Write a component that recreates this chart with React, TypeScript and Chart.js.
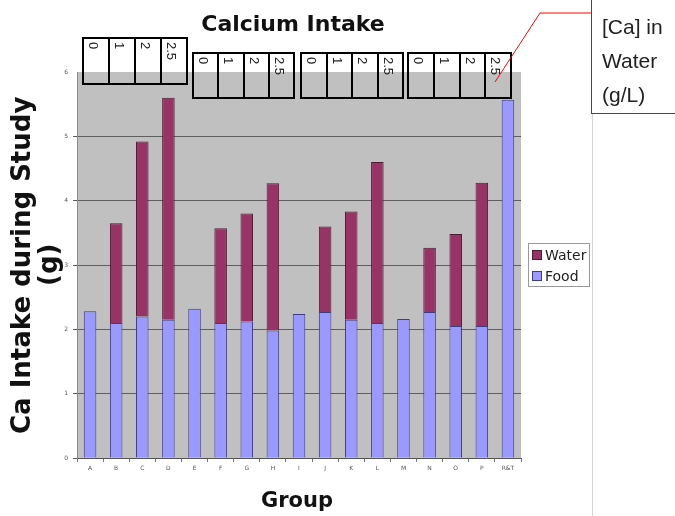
import React, { useEffect, useRef } from 'react';
import { Chart, registerables } from 'chart.js';

Chart.register(...registerables);

const categories = ['A', 'B', 'C', 'D', 'E', 'F', 'G', 'H', 'I', 'J', 'K', 'L', 'M', 'N', 'O', 'P', 'R&T'];
const foodValues = [2.28, 2.10, 2.20, 2.15, 2.32, 2.10, 2.12, 1.98, 2.24, 2.27, 2.15, 2.10, 2.16, 2.27, 2.05, 2.05, 5.57];
const waterValues = [null, 1.55, 2.72, 3.45, null, 1.47, 1.68, 2.29, null, 1.33, 1.68, 2.50, null, 1.00, 1.43, 2.23, null];
const yTicks = [0, 1, 2, 3, 4, 5, 6];
const concentrationLabels = ['0', '1', '2', '2.5'];
const annotationLines = ['[Ca] in', 'Water', '(g/L)'];
const chartTitle = 'Calcium Intake';
const yTitleLines = ['Ca Intake during Study', '(g)'];
const xTitle = 'Group';

const tableBoxes = [
  { left: 82, top: 37, width: 106, height: 48 },
  { left: 192, top: 52, width: 103, height: 47 },
  { left: 300, top: 52, width: 104, height: 47 },
  { left: 407, top: 52, width: 105, height: 47 },
];

const plotBg = {
  id: 'plotBg',
  beforeDraw(chart: any) {
    const { ctx, chartArea } = chart;
    if (!chartArea) return;
    ctx.save();
    ctx.fillStyle = '#c0c0c0';
    ctx.fillRect(chartArea.left, chartArea.top, chartArea.right - chartArea.left, chartArea.bottom - chartArea.top);
    ctx.restore();
  },
};

export default function App() {
  const canvasRef = useRef<HTMLCanvasElement | null>(null);

  useEffect(() => {
    if (!canvasRef.current) return;
    const chart = new Chart(canvasRef.current, {
      type: 'bar',
      data: {
        labels: categories,
        datasets: [
          {
            label: 'Food',
            data: foodValues,
            backgroundColor: '#9999ff',
            borderColor: '#3d3d85',
            borderWidth: 1,
            barPercentage: 0.48,
            categoryPercentage: 1,
          },
          {
            label: 'Water',
            data: waterValues as any,
            backgroundColor: '#993366',
            borderColor: '#4d1a33',
            borderWidth: 1,
            barPercentage: 0.48,
            categoryPercentage: 1,
          },
        ],
      },
      options: {
        responsive: false,
        animation: false,
        layout: { padding: { left: 0, top: 72, right: 154, bottom: 0 } },
        plugins: { legend: { display: false }, tooltip: { enabled: false }, title: { display: false } },
        scales: {
          x: {
            stacked: true,
            grid: { drawOnChartArea: false, tickLength: 4, color: '#777' },
            border: { color: '#555' },
            ticks: { font: { size: 6, family: 'DejaVu Sans' }, color: '#555', padding: 3, maxRotation: 0, autoSkip: false },
            afterFit(s: any) { s.height = 58; },
          },
          y: {
            stacked: true,
            min: 0,
            max: 6,
            afterBuildTicks(s: any) { s.ticks = yTicks.map((v) => ({ value: v })); },
            ticks: { font: { size: 6, family: 'DejaVu Sans' }, color: '#555', padding: 5 },
            grid: {
              tickLength: 4,
              color: (c: any) => (c.tick && c.tick.value === 6 ? 'rgba(0,0,0,0)' : '#5e5e5e'),
            },
            border: { color: '#888' },
            afterFit(s: any) { s.width = 77; },
          },
        },
      },
      plugins: [plotBg],
    });
    return () => chart.destroy();
  }, []);

  return (
    <div style={{ position: 'absolute', left: 0, top: 0, width: 675, height: 516, background: '#fff', overflow: 'hidden' }}>
      <canvas ref={canvasRef} width={675} height={516} style={{ position: 'absolute', left: 0, top: 0, width: 675, height: 516 }} />

      <div style={{ position: 'absolute', left: 193, width: 200, top: 12, textAlign: 'center', font: 'bold 22px "DejaVu Sans"', lineHeight: '24px', color: '#111', whiteSpace: 'nowrap' }}>
        {chartTitle}
      </div>

      <div style={{ position: 'absolute', left: 8, top: 72, width: 54, height: 386, writingMode: 'vertical-rl', transform: 'rotate(180deg)', textAlign: 'center', font: 'bold 26px "DejaVu Sans"', lineHeight: '27px', color: '#111', whiteSpace: 'nowrap' }}>
        {yTitleLines.map((l, i) => (<div key={i}>{l}</div>))}
      </div>

      <div style={{ position: 'absolute', left: 197, width: 200, top: 487, textAlign: 'center', font: 'bold 21px "DejaVu Sans"', lineHeight: '26px', color: '#111' }}>
        {xTitle}
      </div>

      {tableBoxes.map((b, bi) => (
        <div key={bi} style={{ position: 'absolute', left: b.left, top: b.top, width: b.width, height: b.height, border: '2px solid #000', boxSizing: 'border-box', display: 'flex' }}>
          {concentrationLabels.map((t, ti) => (
            <div key={ti} style={{ position: 'relative', flex: 1, borderRight: ti < 3 ? '2px solid #000' : 'none' }}>
              <div style={{ position: 'absolute', left: 3, top: 3, writingMode: 'vertical-rl', font: '13px "Liberation Sans"', lineHeight: '13px', color: '#222' }}>{t}</div>
            </div>
          ))}
        </div>
      ))}

      <svg width={675} height={516} style={{ position: 'absolute', left: 0, top: 0, pointerEvents: 'none' }}>
        <polyline points="495,82 540,13 592,13" fill="none" stroke="#ff0000" strokeWidth={1} />
        <line x1={592.5} y1={114} x2={592.5} y2={516} stroke="#d4d4d4" strokeWidth={1} />
      </svg>

      <div style={{ position: 'absolute', left: 591, top: -3, width: 110, height: 117, border: '1.5px solid #ee0000', boxSizing: 'border-box', background: '#fff' }}>
        {annotationLines.map((l, i) => (
          <div key={i} style={{ position: 'absolute', left: 10, top: 17 + i * 34, font: '21px "Liberation Sans"', lineHeight: '24px', color: '#222', whiteSpace: 'nowrap' }}>{l}</div>
        ))}
      </div>

      <div style={{ position: 'absolute', left: 528, top: 243, width: 62, height: 44, border: '1px solid #999', boxSizing: 'border-box', background: '#fff', font: '14px "DejaVu Sans"', color: '#222' }}>
        {[{ name: 'Water', color: '#993366', bc: '#4d1a33' }, { name: 'Food', color: '#9999ff', bc: '#3d3d85' }].map((it, i) => (
          <div key={i} style={{ position: 'absolute', left: 3, top: 3 + i * 21, height: 16, display: 'flex', alignItems: 'center', lineHeight: '16px' }}>
            <span style={{ display: 'inline-block', width: 8, height: 8, background: it.color, border: `1px solid ${it.bc}`, marginRight: 3 }} />
            <span>{it.name}</span>
          </div>
        ))}
      </div>
    </div>
  );
}
